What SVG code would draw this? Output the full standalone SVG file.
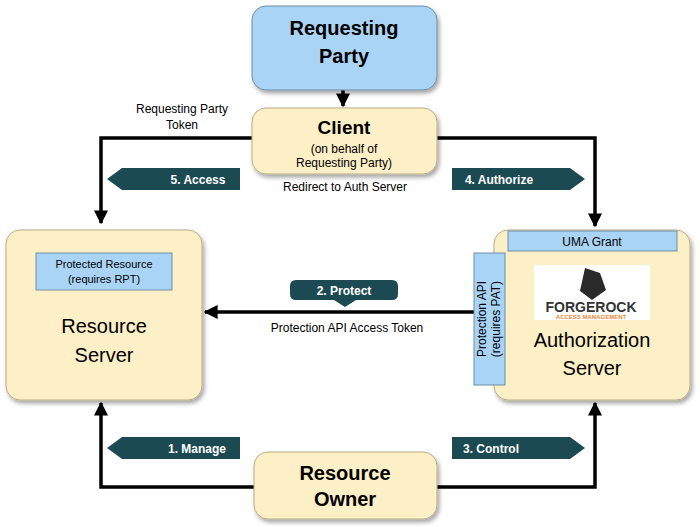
<svg xmlns="http://www.w3.org/2000/svg" width="700" height="527" viewBox="0 0 700 527">
<defs>
<marker id="ah" viewBox="0 0 10 10" refX="9" refY="5" markerWidth="4" markerHeight="4" orient="auto"><path d="M0,0 L10,5 L0,10 Z" fill="#000"/></marker>
<filter id="sh" x="-10%" y="-10%" width="130%" height="130%"><feDropShadow dx="2" dy="3" stdDeviation="2" flood-opacity="0.35"/></filter>
</defs>
<style>
text{font-family:"Liberation Sans",Arial,sans-serif;text-anchor:middle}
.beige{fill:#fdefc6;stroke:#b9ab86;stroke-width:1;filter:url(#sh)}
.blue{fill:#a9d4f5;stroke:#6d8fa8;stroke-width:1}
.lbl{fill:#1c4a53}
.lt{fill:#fff;font-weight:bold;font-size:12px}
.ln{fill:none;stroke:#000;stroke-width:3.5;marker-end:url(#ah)}
.big{font-size:20px}
.bb{font-size:20px;font-weight:bold}
.s{font-size:12px}
</style>
<g id="connectors">
<path class="ln" d="M343,90 V106"/>
<path class="ln" d="M252,138 H101 V223"/>
<path class="ln" d="M437,138 H595 V226"/>
<path class="ln" d="M474,312 H205"/>
<path class="ln" d="M254,487 H101 V403"/>
<path class="ln" d="M437,487 H595 V403"/>
<path class="lbl" d="M107,179 L122,168 H240 V190 H122 Z"/><text class="lt" x="198" y="184">5. Access</text>
<path class="lbl" d="M452,168 H570 L585,179 L570,190 H452 Z"/><text class="lt" x="499" y="184">4. Authorize</text>
<path class="lbl" d="M107,448 L122,437 H240 V459 H122 Z"/><text class="lt" x="197" y="453">1.  Manage</text>
<path class="lbl" d="M452,437 H570 L585,448 L570,459 H452 Z"/><text class="lt" x="491" y="453">3. Control</text>
<path class="lbl" d="M296,280 H392 Q398,280 398,286 V294 Q398,300 392,300 H356 L345,307 L334,300 H296 Q290,300 290,294 V286 Q290,280 296,280 Z"/><text class="lt" x="344" y="295">2. Protect</text>
<text class="s" x="182" y="113">Requesting Party</text><text class="s" x="182" y="129">Token</text>
<text class="s" x="345" y="191">Redirect to Auth Server</text>
<text class="s" x="347" y="332">Protection API Access Token</text>
</g>
<g id="requesting-party">
<rect x="252" y="6" width="185" height="84" rx="14" fill="#a9d4f5" stroke="#6d8fa8" filter="url(#sh)"/>
<text class="bb" x="344" y="35">Requesting</text><text class="bb" x="344" y="63">Party</text>
</g>
<g id="client">
<rect class="beige" x="252" y="108" width="185" height="66" rx="14"/>
<text x="344" y="134" font-size="19" font-weight="bold">Client</text>
<text class="s" x="344" y="153">(on behalf of</text><text class="s" x="344" y="167">Requesting Party)</text>
</g>
<g id="resource-server">
<rect class="beige" x="6" y="230" width="196" height="170" rx="14"/>
<rect class="blue" x="36" y="253" width="136" height="37"/>
<text font-size="11" x="104" y="268">Protected Resource</text><text font-size="11" x="104" y="283">(requires RPT)</text>
<text class="big" x="104" y="333">Resource</text><text class="big" x="104" y="362">Server</text>
</g>
<g id="authorization-server">
<rect class="beige" x="494" y="230" width="196" height="170" rx="14"/>
<rect class="blue" x="508" y="231" width="169" height="20"/>
<text font-size="12" x="592" y="246">UMA Grant</text>
<rect class="blue" x="474" y="253" width="31" height="132"/>
<text font-size="12" transform="translate(486,319) rotate(-90)">Protection API</text>
<text font-size="12" transform="translate(500,319) rotate(-90)">(requires PAT)</text>
<rect x="534" y="265" width="116" height="55" fill="#fff"/>
<path d="M585,268 L600,273 L606,290 L592,300 L580,291 Z" fill="#2a2a2a"/>
<text x="591" y="312" font-size="14" font-weight="bold" fill="#333">FORGEROCK</text>
<text x="591" y="319" font-size="6" font-weight="bold" fill="#e8883a">ACCESS MANAGEMENT</text>
<text class="big" x="592" y="347">Authorization</text><text class="big" x="592" y="375">Server</text>
</g>
<g id="resource-owner">
<rect class="beige" x="254" y="452" width="183" height="67" rx="14"/>
<text class="bb" x="345" y="480">Resource</text><text class="bb" x="345" y="506">Owner</text>
</g>
</svg>
